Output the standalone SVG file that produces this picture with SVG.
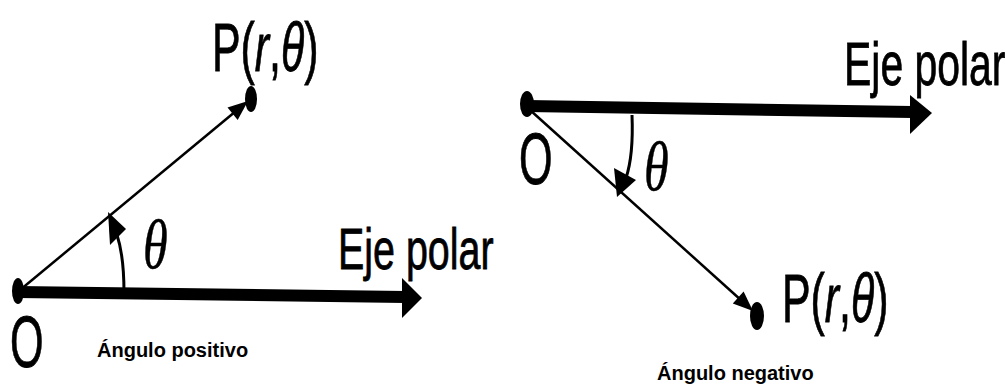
<svg xmlns="http://www.w3.org/2000/svg" width="1005" height="386" viewBox="0 0 1005 386">
<style>
.lbl{font-family:"Liberation Sans",Arial,sans-serif;fill:#000;stroke:#000;stroke-width:0.8}
.th{font-family:"Liberation Serif","Times New Roman",serif;font-style:italic;fill:#000;stroke:#000;stroke-width:0.5}
.cap{font-family:"Liberation Sans",Arial,sans-serif;font-weight:bold;font-size:20px;fill:#000}
.axis{stroke:#000;stroke-width:12;fill:none}
.ray{stroke:#000;stroke-width:2.5;fill:none}
.arc{stroke:#000;stroke-width:3;fill:none}
</style>
<rect width="1005" height="386" fill="#fff"/>
<g id="connectors">
  <line class="axis" x1="18" y1="292" x2="405" y2="297"/>
  <polygon points="402,278 422,298 402,318"/>
  <line class="ray" x1="20" y1="290" x2="236" y2="111"/>
  <polygon points="248,101 237.7,119.9 227.5,107.5"/>
  <path class="arc" d="M124,293 C124,268 122,250 117,235"/>
  <polygon points="108,212 126,229 110,245"/>
  <line class="axis" x1="527" y1="106" x2="912" y2="112"/>
  <polygon points="910,95 932,113 910,134"/>
  <line class="ray" x1="530" y1="110" x2="742" y2="301"/>
  <polygon points="753,311 732.8,303.4 743.6,291.6"/>
  <path class="arc" d="M632,115 C633,140 632,160 626,178"/>
  <polygon points="617,197 614,168 636,180"/>
</g>
<g id="left-origin">
  <ellipse cx="18" cy="291" rx="6" ry="13"/>
  <text class="lbl" font-size="72" transform="translate(10,367) scale(0.6,1)">O</text>
</g>
<g id="left-point">
  <ellipse cx="251" cy="99" rx="6" ry="13"/>
  <text class="lbl" font-size="68" transform="translate(212,71) scale(0.63,1)">P(<tspan font-style="italic">r</tspan>,<tspan font-style="italic">θ</tspan>)</text>
</g>
<g id="left-axis-label">
  <text class="lbl" font-size="58" transform="translate(338,269) scale(0.68,1)">Eje polar</text>
</g>
<g id="left-angle">
  <text class="th" font-size="70" transform="translate(143,268) scale(0.72,1)">θ</text>
</g>
<g id="left-caption">
  <text class="cap" x="97" y="357">Ángulo positivo</text>
</g>
<g id="right-origin">
  <ellipse cx="527" cy="104" rx="7" ry="13"/>
  <text class="lbl" font-size="72" transform="translate(519,184) scale(0.6,1)">O</text>
</g>
<g id="right-point">
  <ellipse cx="757" cy="316" rx="7" ry="14"/>
  <text class="lbl" font-size="68" transform="translate(782,322) scale(0.63,1)">P(<tspan font-style="italic">r</tspan>,<tspan font-style="italic">θ</tspan>)</text>
</g>
<g id="right-axis-label">
  <text class="lbl" font-size="62" transform="translate(844,85) scale(0.66,1)">Eje polar</text>
</g>
<g id="right-angle">
  <text class="th" font-size="70" transform="translate(644,190) scale(0.72,1)">θ</text>
</g>
<g id="right-caption">
  <text class="cap" x="657" y="380">Ángulo negativo</text>
</g>
</svg>
